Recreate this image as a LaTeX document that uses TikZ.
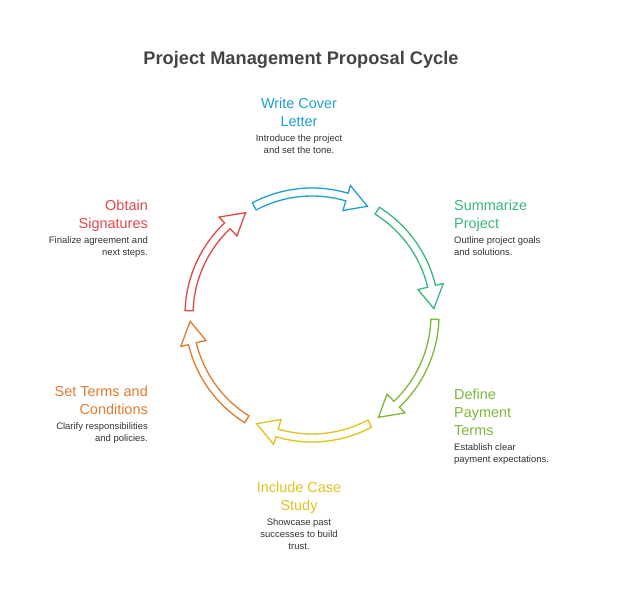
\documentclass[tikz,border=0pt]{standalone}
\usepackage{fontspec}
\setmainfont{Liberation Sans}
\usetikzlibrary{positioning}

\definecolor{cblue}{HTML}{1E9FD0}
\definecolor{cgreen}{HTML}{37B97A}
\definecolor{clime}{HTML}{7DB83A}
\definecolor{cyellow}{HTML}{E2C11C}
\definecolor{corange}{HTML}{E07B2D}
\definecolor{cred}{HTML}{E04848}
\definecolor{ctext}{HTML}{333333}
\definecolor{ctitle}{HTML}{444444}

\tikzset{
  cyclearrow/.style={fill=white, line width=1.3bp, line join=miter},
  headtext/.style={inner sep=0pt, font=\fontsize{14.5}{18}\selectfont},
  desctext/.style={inner sep=0pt, text=ctext, font=\fontsize{9.5}{12}\selectfont},
}

\begin{document}
\begin{tikzpicture}[x=1bp,y=1bp]
%\draw[help lines,step=50] (0,0) grid (617,591);
\useasboundingbox (0,0) rectangle (617,591);

\node (title) [anchor=base, inner sep=0pt, text=ctitle, font=\fontsize{18.3}{22}\bfseries\selectfont] at (301,526) {Project Management Proposal Cycle};

% the ring of arrows
\begin{scope}[shift={(312,276)}]
\draw [cyclearrow, draw=cblue] (118:127) arc (118:73.5:127) -- (73.5:135) -- (63:122) -- (73.5:109) -- (73.5:119) arc (73.5:118:119) -- cycle;
\draw [cyclearrow, draw=cgreen] (58:127) arc (58:13.5:127) -- (13.5:135) -- (3:122) -- (13.5:109) -- (13.5:119) arc (13.5:58:119) -- cycle;
\draw [cyclearrow, draw=clime] (-2:127) arc (-2:-46.5:127) -- (-46.5:135) -- (-57:122) -- (-46.5:109) -- (-46.5:119) arc (-46.5:-2:119) -- cycle;
\draw [cyclearrow, draw=cyellow] (-62:127) arc (-62:-106.5:127) -- (-106.5:135) -- (-117:122) -- (-106.5:109) -- (-106.5:119) arc (-106.5:-62:119) -- cycle;
\draw [cyclearrow, draw=corange] (-122:127) arc (-122:-166.5:127) -- (-166.5:135) -- (-177:122) -- (-166.5:109) -- (-166.5:119) arc (-166.5:-122:119) -- cycle;
\draw [cyclearrow, draw=cred] (178:127) arc (178:133.5:127) -- (133.5:135) -- (123:122) -- (133.5:109) -- (133.5:119) arc (133.5:178:119) -- cycle;
\end{scope}

% step labels
\node (coverhead) [headtext, text=cblue, anchor=north, align=center] at (299,493) {Write Cover\\Letter\strut};
\node (coverdesc) [desctext, below=2bp of coverhead, align=center] {Introduce the project\\and set the tone.};

\node (sumhead) [headtext, text=cgreen, anchor=north west, align=left] at (454,391) {Summarize\\Project\strut};
\node (sumdesc) [desctext, below=2bp of sumhead.south west, anchor=north west, align=left] {Outline project goals\\and solutions.};

\node (payhead) [headtext, text=clime, anchor=north west, align=left] at (454,202) {Define\\Payment\\Terms\strut};
\node (paydesc) [desctext, below=2bp of payhead.south west, anchor=north west, align=left] {Establish clear\\payment expectations.};

\node (casehead) [headtext, text=cyellow, anchor=north, align=center] at (299,109) {Include Case\\Study\strut};
\node (casedesc) [desctext, below=2bp of casehead, align=center] {Showcase past\\successes to build\\trust.};

\node (termshead) [headtext, text=corange, anchor=north east, align=right] at (148,205) {Set Terms and\\Conditions\strut};
\node (termsdesc) [desctext, below=2bp of termshead.south east, anchor=north east, align=right] {Clarify responsibilities\\and policies.};

\node (signhead) [headtext, text=cred, anchor=north east, align=right] at (148,391) {Obtain\\Signatures\strut};
\node (signdesc) [desctext, below=2bp of signhead.south east, anchor=north east, align=right] {Finalize agreement and\\next steps.};
\end{tikzpicture}
\end{document}
